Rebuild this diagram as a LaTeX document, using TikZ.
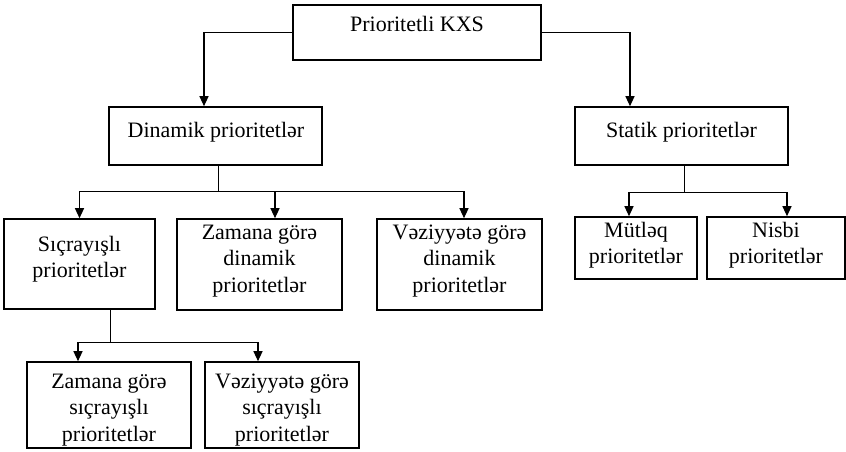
\documentclass[tikz,border=0pt]{standalone}
\usepackage{fontspec}
\setmainfont{Liberation Serif}
\usetikzlibrary{arrows.meta}
\newcommand\tb[1]{\begin{tabular}[t]{@{}c@{}}#1\end{tabular}}
\begin{document}
\begin{tikzpicture}[x=1pt,y=-1pt,
  box/.style={draw,line width=1.6pt,inner sep=0pt},
  lbl/.style={anchor=base,inner sep=0pt,font=\fontsize{22}{26.5}\selectfont},
  arr/.style={line width=1.2pt,-{Triangle[length=10pt,width=9pt]}},
  stem/.style={line width=0.9pt}]
\useasboundingbox (0,0) rectangle (846,452);
% boxes
\node[box,minimum width=248pt,minimum height=55pt] (top)  at (417,32.5) {};
\node[box,minimum width=213pt,minimum height=58pt] (din)  at (215.5,136) {};
\node[box,minimum width=213pt,minimum height=58pt] (stat) at (681.5,136) {};
\node[box,minimum width=151pt,minimum height=90pt] (sic)  at (79.5,264) {};
\node[box,minimum width=165pt,minimum height=91pt] (zdin) at (259.5,264.5) {};
\node[box,minimum width=165pt,minimum height=91pt] (vdin) at (459.5,264.5) {};
\node[box,minimum width=122pt,minimum height=62pt] (mut)  at (636,248) {};
\node[box,minimum width=138pt,minimum height=62pt] (nis)  at (776,248) {};
\node[box,minimum width=164pt,minimum height=86pt] (zs)   at (109,405) {};
\node[box,minimum width=154pt,minimum height=86pt] (vs)   at (282,405) {};
% texts
\node[lbl] (ttop)  at (417,32)    {Prioritetli KXS};
\node[lbl] (tdin)  at (216,137)   {Dinamik prioritetlər};
\node[lbl] (tstat) at (681.5,137) {Statik prioritetlər};
\node[lbl] (tsic)  at (79.5,251)  {\tb{Sıçrayışlı\\prioritetlər}};
\node[lbl] (tzdin) at (259.5,239) {\tb{Zamana görə\\dinamik\\prioritetlər}};
\node[lbl] (tvdin) at (459.5,239) {\tb{Vəziyyətə görə\\dinamik\\prioritetlər}};
\node[lbl] (tmut)  at (636,237)   {\tb{Mütləq\\prioritetlər}};
\node[lbl] (tnis)  at (776,237)   {\tb{Nisbi\\prioritetlər}};
\node[lbl] (tzs)   at (109,388)   {\tb{Zamana görə\\sıçrayışlı\\prioritetlər}};
\node[lbl] (tvs)   at (282,388)   {\tb{Vəziyyətə görə\\sıçrayışlı\\prioritetlər}};
% top level connectors
\draw[arr] (top.west) -| ([xshift=-11.5pt]din.north);
\draw[arr] (top.east) -| ([xshift=-51.5pt]stat.north);
% dinamik branch
\coordinate (dj) at (218,191);
\draw[stem] ([xshift=2.5pt]din.south) -- (dj);
\draw[stem] (79,191) -- (464,191);
\draw[arr] (sic.north |- dj) -- (sic.north);
\draw[arr] ([xshift=15.5pt]zdin.north |- dj) -- ([xshift=15.5pt]zdin.north);
\draw[arr] ([xshift=4.5pt]vdin.north |- dj) -- ([xshift=4.5pt]vdin.north);
% statik branch
\coordinate (sj) at (684,192);
\draw[stem] ([xshift=2.5pt]stat.south) -- (sj);
\draw[stem] (629,192) -- (787,192);
\draw[arr] ([xshift=-7pt]mut.north |- sj) -- ([xshift=-7pt]mut.north);
\draw[arr] ([xshift=11pt]nis.north |- sj) -- ([xshift=11pt]nis.north);
% sicrayisli branch
\coordinate (cj) at (110,342);
\draw[stem] ([xshift=30.5pt]sic.south) -- (cj);
\draw[stem] (78,342) -- (258,342);
\draw[arr] ([xshift=-31pt]zs.north |- cj) -- ([xshift=-31pt]zs.north);
\draw[arr] ([xshift=-24pt]vs.north |- cj) -- ([xshift=-24pt]vs.north);
\end{tikzpicture}
\end{document}
